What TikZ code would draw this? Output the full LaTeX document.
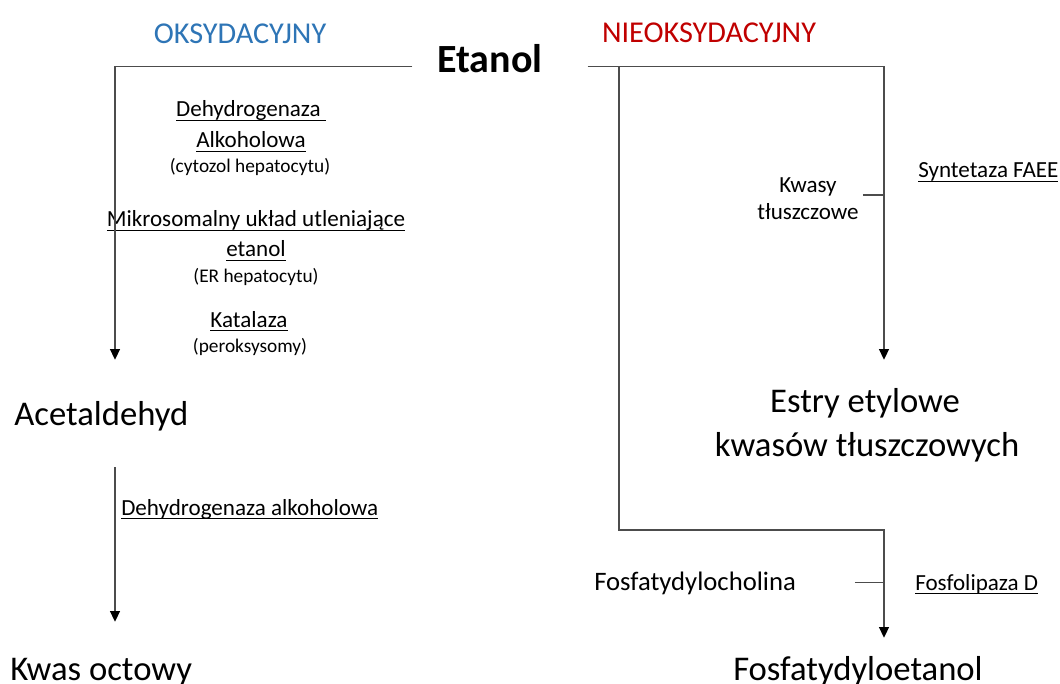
\documentclass[tikz,border=0pt]{standalone}
\usepackage{fontspec}
\setmainfont{Carlito}
\usetikzlibrary{arrows.meta,positioning}
\definecolor{oksblue}{HTML}{2E75B6}
\definecolor{nieored}{HTML}{C00000}
\newcommand{\enzul}[1]{\setbox0\hbox{#1}\rlap{\rule[-0.17em]{\wd0}{0.06em}}\box0}

\begin{document}
\begin{tikzpicture}[x=0.75pt,y=-0.75pt,
  every node/.style={inner sep=0pt,anchor=base},
  conn/.style={draw=black!70,line width=0.8pt},
  flow/.style={conn,-{Triangle[length=8pt,width=7.5pt,color=black]}},
  head/.style={font=\fontsize{22.7}{27}\selectfont},
  big/.style={font=\fontsize{26}{31}\selectfont,text height=18pt,text depth=5pt},
  enz/.style={font=\fontsize{17.3}{20}\selectfont},
  loc/.style={font=\fontsize{14.5}{17}\selectfont}]
  \useasboundingbox (0,0) rectangle (1060,684);

  % naglowki
  \node[head,text=oksblue] (oks) at (240,44) {OKSYDACYJNY};
  \node[head,text=nieored] (nieoks) at (709,43) {NIEOKSYDACYJNY};
  \node[font=\bfseries\fontsize{30}{35}\selectfont] (etanol) at (490,73) {Etanol};

  % szlak oksydacyjny
  \node[enz] (adh) at (251,117) {\enzul{Dehydrogenaza\ }};
  \node[enz] (adh_b) at (251,148) {\enzul{Alkoholowa}};
  \node[loc] (adh_loc) at (250,173) {(cytozol hepatocytu)};
  \node[enz] (meos) at (256,227) {\enzul{Mikrosomalny układ utleniające}};
  \node[enz] (meos_b) at (256,257) {\enzul{etanol}};
  \node[loc] (meos_loc) at (256,283) {(ER hepatocytu)};
  \node[enz] (kat) at (249,327) {\enzul{Katalaza}};
  \node[loc] (kat_loc) at (250,352) {(peroksysomy)};
  \node[big,anchor=base west] (acet) at (14,425) {Acetaldehyd};
  \node[enz,anchor=base west] (aldh) at (121,515) {\enzul{Dehydrogenaza alkoholowa}};
  \node[big,anchor=base west] (kwas) at (10,680) {Kwas octowy};

  % szlak nieoksydacyjny
  \node[enz,align=center,anchor=center] (kwasy) at (808,199) {Kwasy\\tłuszczowe};
  \node[enz,anchor=base west] (faee) at (918,178) {\enzul{Syntetaza FAEE}};
  \node[big] (estry) at (865,412) {Estry etylowe};
  \node[big] (estry_b) at (867,456) {kwasów tłuszczowych};
  \node[font=\fontsize{20}{24}\selectfont,anchor=base west] (fch) at (594,590) {Fosfatydylocholina};
  \node[enz,anchor=base west] (pld) at (915,590) {\enzul{Fosfolipaza D}};
  \node[big] (fose) at (858,680) {Fosfatydyloetanol};

  \coordinate (lcol) at (115,0);
  \coordinate (mcol) at (619,0);
  \coordinate (rcol) at (884,0);
  \coordinate (pbend) at (884,530);

  \draw[flow,shorten >=30.75pt] ([shift={(-18.75pt,2.25pt)}]etanol.mid west) -| (lcol |- acet.north);
  \draw[flow,shorten <=26.5pt,shorten >=25.5pt] (lcol |- acet.south) -- (lcol |- kwas.north);
  \draw[flow,shorten >=21pt] ([shift={(33.75pt,2.25pt)}]etanol.mid east) -| (rcol |- estry.north);
  \draw[flow,shorten >=13.5pt] ([yshift=2.25pt]mcol |- etanol.mid) |- (pbend) -- (pbend |- fose.north);
  \draw[conn] ([xshift=3pt,yshift=3pt]kwasy.east) -- ([yshift=3pt]kwasy.east -| rcol);
  \draw[conn] ([xshift=44pt]fch.east) -- (fch.east -| rcol);
\end{tikzpicture}
\end{document}
